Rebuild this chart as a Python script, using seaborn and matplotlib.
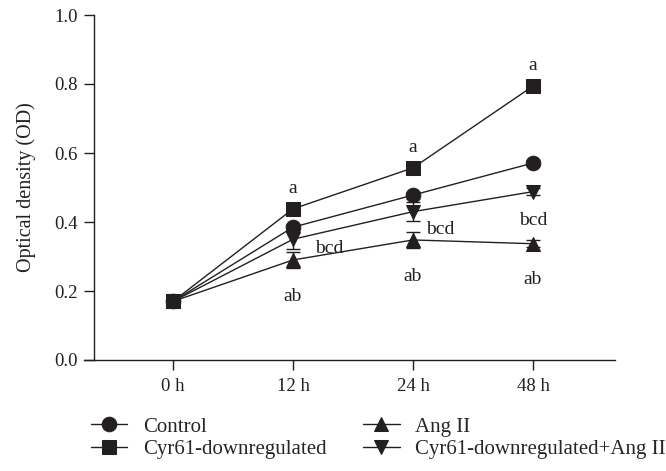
import numpy as np
import pandas as pd
import matplotlib
matplotlib.use("Agg")
import matplotlib.pyplot as plt
import seaborn as sns

# ---- data ----
time_labels = ["0 h", "12 h", "24 h", "48 h"]
groups = ["Control", "Cyr61-downregulated", "Ang II", "Cyr61-downregulated+Ang II"]
control = [0.17, 0.385, 0.478, 0.571]
cyr61_down = [0.17, 0.438, 0.557, 0.794]
ang2 = [0.17, 0.290, 0.348, 0.337]
cyr61_ang2 = [0.17, 0.350, 0.430, 0.488]
control_err = [0.008, 0.010, 0.010, 0.008]
cyr61_down_err = [0.008, 0.010, 0.010, 0.008]
ang2_err = [0.008, 0.024, 0.024, 0.010]
cyr61_ang2_err = [0.008, 0.027, 0.027, 0.010]

ann_a = ["", "a", "a", "a"]
ann_bcd = ["", "bcd", "bcd", "bcd"]
ann_ab = ["", "ab", "ab", "ab"]

sns.set_theme(style="ticks")
plt.rcParams["font.family"] = ["Liberation Serif", "DejaVu Serif"]
ink = "#231f20"

values = [control, cyr61_down, ang2, cyr61_ang2]
errs = [control_err, cyr61_down_err, ang2_err, cyr61_ang2_err]
rows = []
for g, v, e in zip(groups, values, errs):
    for i, t in enumerate(time_labels):
        rows.append({"pos": i, "time": t, "group": g, "od": v[i], "err": e[i]})
df = pd.DataFrame(rows)

fig = plt.figure(figsize=(6.66, 4.71), dpi=100)
ax = fig.add_axes([84 / 666, 1 - 360 / 471, (615 - 84) / 666, (360 - 15) / 471])

markers = {"Control": "o", "Cyr61-downregulated": "s", "Ang II": "^",
           "Cyr61-downregulated+Ang II": "v"}
palette = {g: ink for g in groups}

for g in groups:
    sub = df[df.group == g]
    ax.errorbar(sub["pos"], sub["od"], yerr=sub["err"], fmt="none",
                ecolor=ink, elinewidth=1.0, capsize=5, capthick=1.0, zorder=2)

sns.lineplot(data=df, x="pos", y="od", hue="group", style="group",
             markers=markers, dashes=False, palette=palette,
             hue_order=groups, style_order=groups,
             markersize=10.5, linewidth=1.0, markeredgecolor=ink,
             ax=ax, legend=True, zorder=3)

# annotations
fs = 14
for i in range(4):
    if ann_a[i]:
        ax.text(i, cyr61_down[i] + 0.06, ann_a[i], ha="center", va="center", fontsize=fs, color=ink)
    if ann_ab[i]:
        ax.text(i, ang2[i] - 0.105, ann_ab[i], ha="center", va="center", fontsize=fs, color=ink)
bcd_pos = [(None, None), (1.30, 0.322), (2.23, 0.379), (3.0, 0.403)]
for i in range(1, 4):
    ax.text(bcd_pos[i][0], bcd_pos[i][1], ann_bcd[i], ha="center", va="center", fontsize=fs, color=ink)

ax.set_xlim(-0.742, 3.683)
ax.set_ylim(0, 1.0)
ax.set_xticks(range(4))
ax.set_xticklabels(time_labels)
ax.set_yticks(np.arange(0, 1.01, 0.2))
ax.set_yticklabels([f"{t:.1f}" for t in np.arange(0, 1.01, 0.2)])
ax.set_xlabel("")
ax.set_ylabel("Optical density (OD)", fontsize=14.5, color=ink, labelpad=13)
ax.spines["left"].set_position(("data", -0.658))
ax.spines["top"].set_visible(False)
ax.spines["right"].set_visible(False)
for s in ["left", "bottom"]:
    ax.spines[s].set_color(ink)
    ax.spines[s].set_linewidth(1.0)
ax.tick_params(axis="both", direction="out", length=7, width=1.0, colors=ink,
               labelsize=13.5, pad=5)
ax.tick_params(axis="x", pad=6)

handles, labels = ax.get_legend_handles_labels()
ax.get_legend().remove()
leg = fig.legend(handles, labels,
                 loc="upper left", bbox_to_anchor=(91 / 666, 1 - 417 / 471),
                 ncol=2, frameon=False, fontsize=15, handlelength=1.75,
                 handletextpad=0.75, columnspacing=1.75, labelspacing=0.15,
                 borderaxespad=0, borderpad=0)
for h in leg.legend_handles:
    h.set_markersize(10.5)
    h.set_color(ink)

fig.savefig("out.png", dpi=100)
